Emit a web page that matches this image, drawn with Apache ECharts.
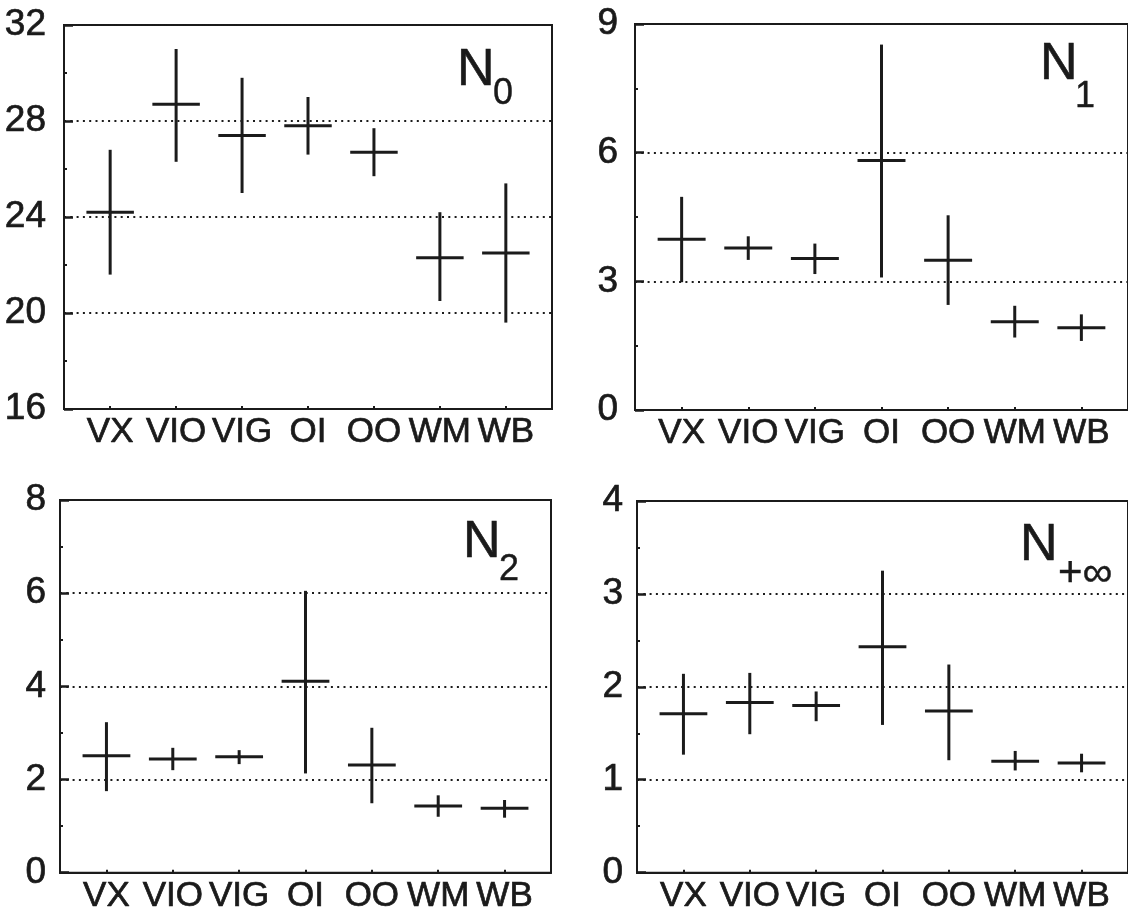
<!DOCTYPE html>
<html>
<head>
<meta charset="utf-8">
<script src="https://cdn.jsdelivr.net/npm/echarts@6/dist/echarts.min.js"></script>
<style>
html,body{margin:0;padding:0;background:#fff;}
#chart{width:1128px;height:914px;}
</style>
</head>
<body>
<div id="chart"></div>
<script>
// ---- data ----
const categories = ['VX', 'VIO', 'VIG', 'OI', 'OO', 'WM', 'WB'];

const n0Value = [24.2, 28.7, 27.4, 27.8, 26.7, 22.3, 22.5];
const n0Low   = [21.6, 26.3, 25.0, 26.6, 25.7, 20.5, 19.6];
const n0High  = [26.8, 31.0, 29.8, 29.0, 27.7, 24.2, 25.4];

const n1Value = [3.98, 3.78, 3.53, 5.82, 3.49, 2.06, 1.92];
const n1Low   = [2.98, 3.50, 3.17, 3.09, 2.45, 1.69, 1.61];
const n1High  = [4.97, 4.05, 3.88, 8.52, 4.54, 2.43, 2.23];

const n2Value = [2.51, 2.44, 2.49, 4.11, 2.31, 1.43, 1.38];
const n2Low   = [1.75, 2.20, 2.33, 2.13, 1.49, 1.20, 1.18];
const n2High  = [3.23, 2.68, 2.63, 6.05, 3.11, 1.66, 1.56];

const nInfValue = [1.71, 1.83, 1.80, 2.43, 1.74, 1.20, 1.18];
const nInfLow   = [1.27, 1.49, 1.63, 1.59, 1.21, 1.10, 1.08];
const nInfHigh  = [2.14, 2.15, 1.95, 3.25, 2.24, 1.31, 1.28];

const n0Axis   = {min: 16, max: 32, interval: 4};
const n1Axis   = {min: 0, max: 9, interval: 3};
const n2Axis   = {min: 0, max: 8, interval: 2};
const nInfAxis = {min: 0, max: 4, interval: 1};

const panelTitles = [['N', '0'], ['N', '1'], ['N', '2'], ['N', '+\u221E']];

// ---- styling / layout ----
const FONT = "'Liberation Sans Narrow', 'Liberation Sans', Arial, sans-serif";
const INK = '#1b1b1b';
const HALF = 0.36;

const panels = [
  {grid: {left: 64, top: 25, width: 488, height: 384}, axis: n0Axis, v: n0Value, lo: n0Low, hi: n0High, labelMargin: 18,
   title: {nx: 457, ny: 71, sx: 493, sy: 94, ss: 36}},
  {grid: {left: 635, top: 24, width: 500, height: 386}, axis: n1Axis, v: n1Value, lo: n1Low, hi: n1High, labelMargin: 17,
   title: {nx: 1040, ny: 65, sx: 1075, sy: 97, ss: 36}},
  {grid: {left: 60, top: 500, width: 491, height: 379}, axis: n2Axis, v: n2Value, lo: n2Low, hi: n2High, labelMargin: 14,
   title: {nx: 463, ny: 543, sx: 499, sy: 570, ss: 36}},
  {grid: {left: 637, top: 501, width: 500, height: 376}, axis: nInfAxis, v: nInfValue, lo: nInfLow, hi: nInfHigh, labelMargin: 14,
   title: {nx: 1020, ny: 546, sx: 1058, sy: 574, ss: 42}}
];

function renderItem(params, api) {
  const x = api.value(0), v = api.value(1), lo = api.value(2), hi = api.value(3);
  const pL = api.coord([x - HALF, v]);
  const pR = api.coord([x + HALF, v]);
  const pT = api.coord([x, hi]);
  const pB = api.coord([x, lo]);
  const style = {stroke: INK, lineWidth: 3};
  return {
    type: 'group',
    children: [
      {type: 'line', shape: {x1: pL[0], y1: pL[1], x2: pR[0], y2: pR[1]}, style: style},
      {type: 'line', shape: {x1: pT[0], y1: pT[1], x2: pB[0], y2: pB[1]}, style: style}
    ]
  };
}

const catPositions = categories.map((c, i) => i + 1);

const option = {
  backgroundColor: '#ffffff',
  animation: false,
  grid: [], xAxis: [], yAxis: [], series: [], graphic: []
};

panels.forEach((p, k) => {
  option.grid.push(Object.assign({show: true, borderColor: INK, borderWidth: 2, backgroundColor: 'transparent'}, p.grid));
  option.xAxis.push({
    type: 'value', gridIndex: k, min: 0.3, max: 7.7,
    axisLine: {show: true, lineStyle: {color: INK, width: 2}},
    axisTick: {show: true, inside: true, length: 3, customValues: catPositions, lineStyle: {color: INK, width: 2}},
    axisLabel: {
      show: true, customValues: catPositions, margin: 6,
      formatter: v => categories[Math.round(v) - 1] || '',
      fontFamily: FONT, fontSize: 35, color: '#1a1a1a',
      textBorderColor: '#1a1a1a', textBorderWidth: 0.7
    },
    splitLine: {show: false}
  });
  option.yAxis.push({
    type: 'value', gridIndex: k, min: p.axis.min, max: p.axis.max, interval: p.axis.interval,
    axisLine: {show: true, lineStyle: {color: INK, width: 2}},
    axisTick: {show: true, inside: true, length: 9, lineStyle: {color: INK, width: 2.5}},
    minorTick: {show: true, splitNumber: 2, length: 3, lineStyle: {color: INK, width: 2}},
    axisLabel: {margin: p.labelMargin, fontFamily: FONT, fontSize: 37, color: '#1a1a1a', padding: [10, 0, 0, 0],
      textBorderColor: '#1a1a1a', textBorderWidth: 0.7},
    splitLine: {show: true, lineStyle: {color: INK, width: 2, type: [2, 4.3]}}
  });
  option.series.push({
    type: 'custom', xAxisIndex: k, yAxisIndex: k,
    renderItem: renderItem,
    encode: {x: 0, y: [1, 2, 3]},
    data: p.v.map((v, i) => [i + 1, v, p.lo[i], p.hi[i]]),
    z: 5
  });
  const t = p.title;
  option.graphic.push({
    type: 'text', x: t.nx, y: t.ny,
    style: {text: panelTitles[k][0], font: '52px ' + FONT, fill: '#1a1a1a', stroke: '#1a1a1a', lineWidth: 0.6,
      verticalAlign: 'middle', align: 'left'}
  });
  option.graphic.push({
    type: 'text', x: t.sx, y: t.sy,
    style: {text: panelTitles[k][1], font: t.ss + 'px ' + FONT, fill: '#1a1a1a', stroke: '#1a1a1a', lineWidth: 0.4,
      verticalAlign: 'middle', align: 'left'}
  });
});

const chart = echarts.init(document.getElementById('chart'), null, {renderer: 'canvas'});
chart.setOption(option);
</script>
</body>
</html>
